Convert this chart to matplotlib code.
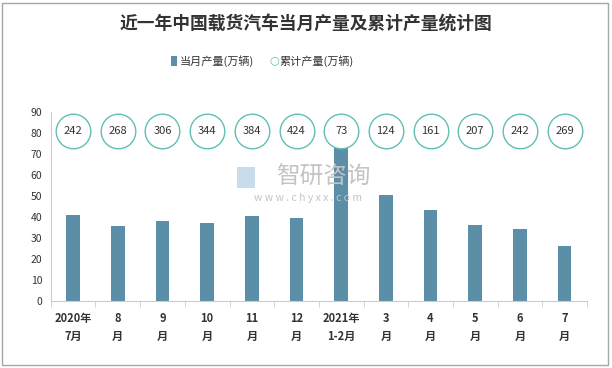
import matplotlib.pyplot as plt
from matplotlib.patches import Rectangle

plt.rcParams['font.family'] = ['Noto Sans CJK SC', 'DejaVu Sans']

categories = ["2020年\n7月", "8\n月", "9\n月", "10\n月", "11\n月", "12\n月",
              "2021年\n1-2月", "3\n月", "4\n月", "5\n月", "6\n月", "7\n月"]
monthly = [41.0, 35.7, 38.1, 37.1, 40.5, 39.5, 73.3, 50.5, 43.3, 36.2, 34.3, 26.2]
cumulative = [242, 268, 306, 344, 384, 424, 73, 124, 161, 207, 242, 269]
bubble_y = 81

bar_color = "#5b8fa7"
ring_color = "#5fbfb4"

fig = plt.figure(figsize=(6.12, 3.68), dpi=100)
ax = fig.add_axes([0.083, 0.182, 0.876, 0.514])

x = list(range(len(categories)))
ax.bar(x, monthly, width=0.31, color=bar_color, zorder=2)
ax.scatter(x, [bubble_y] * len(x), s=620, facecolor="white", edgecolor=ring_color,
           linewidth=1.0, zorder=3, clip_on=False)
for i, v in enumerate(cumulative):
    ax.text(i, bubble_y, str(v), ha="center", va="center", fontsize=8, color="#333333", zorder=4)

ax.set_xlim(-0.5, len(x) - 0.5)
ax.set_ylim(0, 90)
ax.set_yticks(range(0, 91, 10))
ax.tick_params(axis="y", length=0, labelsize=7.5, colors="#333333", pad=6)
ax.set_xticks(x)
ax.set_xticklabels(categories, fontsize=8, fontweight="bold", color="#333333", linespacing=1.5)
ax.tick_params(axis="x", length=0, pad=8)
# boundary ticks
ax.set_xticks([i - 0.5 for i in range(len(x) + 1)], minor=True)
ax.tick_params(axis="x", which="minor", length=4, color="#cccccc")

for s in ["top", "right"]:
    ax.spines[s].set_visible(False)
ax.spines["left"].set_color("#cccccc")
ax.spines["bottom"].set_color("#cccccc")

fig.text(0.5, 0.932, "近一年中国载货汽车当月产量及累计产量统计图", ha="center", va="center",
         fontsize=12.8, fontweight="bold", color="#333333")

# legend
fig.patches.append(Rectangle((0.279, 0.822), 0.010, 0.026, transform=fig.transFigure,
                             facecolor=bar_color, edgecolor="none"))
fig.text(0.294, 0.835, "当月产量(万辆)", ha="left", va="center", fontsize=8, color="#333333")
fig.text(0.440, 0.835, "○", ha="left", va="center", fontsize=8, color=ring_color,
         family=["DejaVu Sans"])
fig.text(0.457, 0.835, "累计产量(万辆)", ha="left", va="center", fontsize=8, color="#333333")

# watermark
fig.text(0.528, 0.518, "智研咨询", ha="center", va="center", fontsize=17, color="#c4c4c4", zorder=0)
fig.text(0.503, 0.463, "w w w . c h y x x . c o m", ha="center", va="center", fontsize=7.5,
         color="#c4c4c4", zorder=0)
fig.patches.append(Rectangle((0.387, 0.489), 0.030, 0.057, transform=fig.transFigure,
                             facecolor="#c9dcec", edgecolor="none", zorder=0))

# border
fig.patches.append(Rectangle((0.004, 0.007), 0.99, 0.986, transform=fig.transFigure,
                             facecolor="none", edgecolor="#a6a6a6", linewidth=1))

fig.savefig("out.png", dpi=100)
